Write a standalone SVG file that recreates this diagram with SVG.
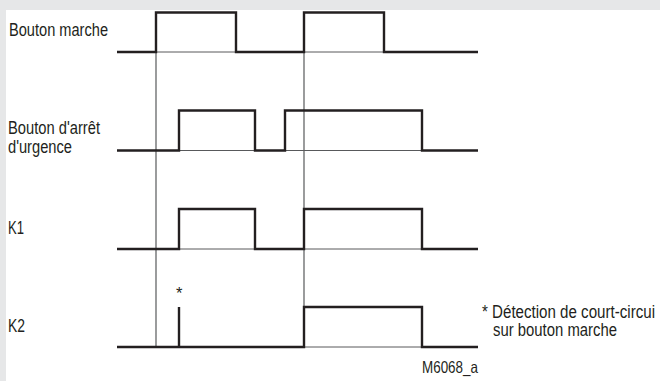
<svg xmlns="http://www.w3.org/2000/svg" width="660" height="381" viewBox="0 0 660 381">
<style>
.lbl{font-family:"Liberation Sans Narrow","Liberation Sans",Arial,sans-serif;font-size:17.5px;fill:#231f20}
.note{font-family:"Liberation Sans Narrow","Liberation Sans",Arial,sans-serif;font-size:16.5px;fill:#231f20}
.sig{fill:none;stroke:#231f20;stroke-width:2.4;stroke-linejoin:miter;stroke-linecap:butt}
.base{fill:none;stroke:#58595b;stroke-width:1}
.ref{fill:none;stroke:#58595b;stroke-width:1.2}
</style>
<rect x="0" y="0" width="660" height="381" fill="#ffffff"/>
<rect x="0" y="0" width="660" height="10" fill="#e6e7e8"/>
<rect x="0" y="0" width="6" height="381" fill="#e6e7e8"/>

<g id="connectors">
<line class="ref" x1="156" y1="12" x2="156" y2="347"/>
<line class="ref" x1="304" y1="12" x2="304" y2="347"/>
</g>

<g id="bouton-marche">
<text class="lbl" x="9" y="36" textLength="99" lengthAdjust="spacingAndGlyphs">Bouton marche</text>
<line class="base" x1="117" y1="52" x2="478" y2="52"/>
<path class="sig" d="M117,52 H156 V12.5 H236 V52 H304 V12.5 H384 V52 H478"/>
</g>

<g id="bouton-arret">
<text class="lbl" x="8" y="134" textLength="92" lengthAdjust="spacingAndGlyphs">Bouton d'arrêt</text>
<text class="lbl" x="8" y="152.5" textLength="64" lengthAdjust="spacingAndGlyphs">d'urgence</text>
<line class="base" x1="117" y1="150.5" x2="478" y2="150.5"/>
<path class="sig" d="M117,150.5 H179 V110.5 H255 V150.5 H285 V110.5 H422 V150.5 H478"/>
</g>

<g id="k1">
<text class="lbl" x="8" y="234" textLength="16" lengthAdjust="spacingAndGlyphs">K1</text>
<line class="base" x1="117" y1="249" x2="478" y2="249"/>
<path class="sig" d="M117,249 H179 V209 H255 V249 H304 V209 H422 V249 H478"/>
</g>

<g id="k2">
<text class="lbl" x="8" y="332" textLength="17" lengthAdjust="spacingAndGlyphs">K2</text>
<line class="base" x1="117" y1="347" x2="478" y2="347"/>
<path class="sig" d="M117,347 H304 V307 H422 V347 H478"/>
<path class="sig" d="M179,347 V307"/>
<text class="note" x="179.3" y="299" text-anchor="middle" font-size="13">*</text>
</g>

<g id="note">
<text class="lbl" x="482" y="317.5" textLength="173" lengthAdjust="spacingAndGlyphs">* Détection de court-circui</text>
<text class="lbl" x="493" y="336" textLength="124" lengthAdjust="spacingAndGlyphs">sur bouton marche</text>
</g>

<g id="ref-code">
<text class="note" x="422" y="373" textLength="56" lengthAdjust="spacingAndGlyphs">M6068_a</text>
</g>
</svg>
